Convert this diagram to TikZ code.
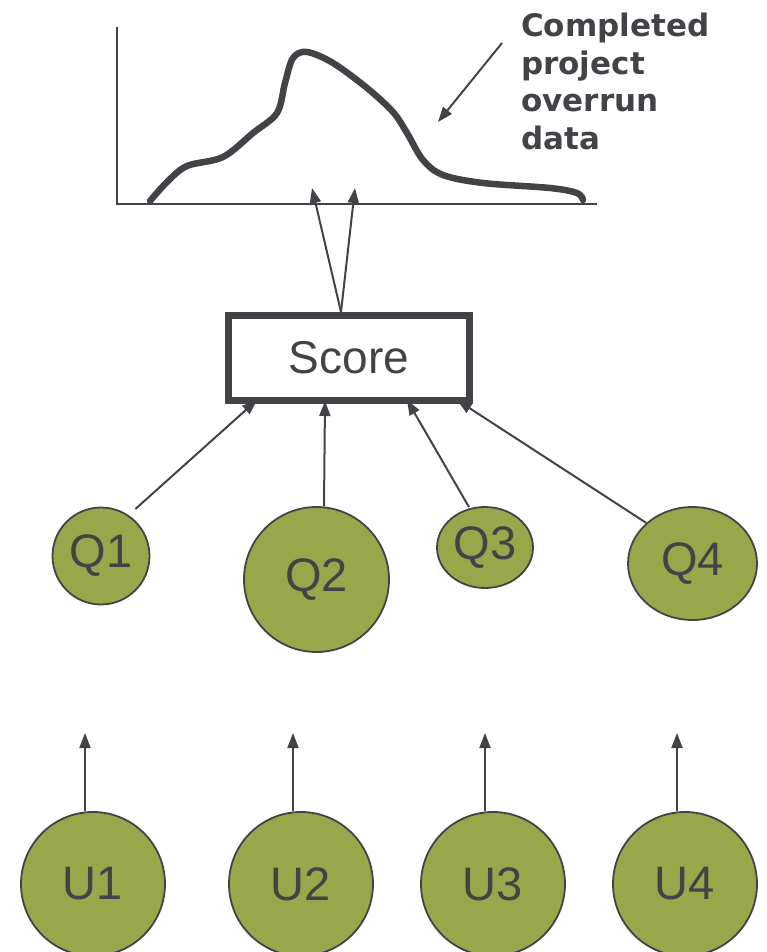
\documentclass[tikz,border=0pt]{standalone}
\usepackage{fontspec}
\setmainfont{Liberation Sans}
\newfontfamily\rotulo{DejaVu Sans}
\usetikzlibrary{arrows.meta,shapes.geometric}

\definecolor{oscuro}{RGB}{64,68,71}
\definecolor{oliva}{RGB}{152,167,74}

\tikzset{
    flecha/.style={-{Triangle[length=15pt,width=11pt]},line width=2pt,draw=oscuro},
    bola/.style={circle,draw=oscuro,line width=1.8pt,fill=oliva,inner sep=0pt,
        text=oscuro,font=\fontsize{47}{50}\selectfont},
    ovalo/.style={ellipse,draw=oscuro,line width=1.8pt,fill=oliva,inner sep=0pt,
        text=oscuro,font=\fontsize{47}{50}\selectfont},
    caja/.style={rectangle,draw=oscuro,line width=7pt,inner sep=0pt,
        minimum width=241pt,minimum height=85pt,text=oscuro,
        font=\fontsize{46}{50}\selectfont},
}

\begin{document}
\begin{tikzpicture}[x=1pt,y=-1pt]
    \useasboundingbox (0,0) rectangle (766,952);

    % ejes y curva
    \draw[oscuro,line width=2.5pt] (117,27) -- (117,204) -- (597,204);
    \draw[oscuro,line width=6.5pt,line cap=round] plot[smooth,tension=0.55] coordinates {
        (150,201) (167,182) (187,166) (223,157) (253,133) (277,113) (285,83)
        (293,58) (307,52) (333,63) (367,88) (393,112) (407,133) (423,160)
        (443,175) (483,183) (550,188) (577,193) (583,200)};

    \node[anchor=north west,align=left,inner sep=0pt,text=oscuro,
        font=\rotulo\fontsize{31}{37.5}\selectfont\bfseries] (datos) at (521,13)
        {Completed\\project\\overrun\\data};
    \coordinate (colaD) at (502,43);
    \coordinate (puntaD) at (438,122);
    \draw[flecha] (colaD) -- (puntaD);

    \node[caja] (score) at (349,358) {Score};
    \coordinate (ejeA) at (312,188);
    \coordinate (ejeB) at (355,188);
    \draw[flecha] ([xshift=-8pt]score.north) -- (ejeA);
    \draw[flecha] ([xshift=-8pt]score.north) -- (ejeB);

    \node[bola,minimum size=97pt] (Q1) at (101,556) {Q1};
    \node[bola,minimum size=145pt] (Q2) at (316.5,579.5) {Q2};
    \node[ovalo,minimum width=96pt,minimum height=81pt] (Q3) at (485,547.5) {Q3};
    \node[ovalo,minimum width=129pt,minimum height=113pt] (Q4) at (692.5,563.5) {Q4};

    \draw[flecha,shorten <=9pt] (Q1.56) -- ([xshift=-92pt,yshift=4pt]score.south);
    \draw[flecha] ([xshift=7.5pt]Q2.north) -- ([xshift=-24pt,yshift=3pt]score.south);
    \draw[flecha] ([xshift=-16pt,yshift=-1pt]Q3.north) -- ([xshift=58pt,yshift=4pt]score.south);
    \draw[flecha] (Q4.north west) -- ([xshift=108pt,yshift=4pt]score.south);

    \node[bola,minimum size=144pt] (U1) at (93,884) {U1};
    \node[bola,minimum size=144pt] (U2) at (301,884) {U2};
    \node[bola,minimum size=144pt] (U3) at (493,884) {U3};
    \node[bola,minimum size=144pt] (U4) at (685,884) {U4};

    \coordinate (u1) at (85,733);
    \coordinate (u2) at (293,733);
    \coordinate (u3) at (485,733);
    \coordinate (u4) at (677,733);
    \draw[flecha] ([xshift=-8pt]U1.north) -- (u1);
    \draw[flecha] ([xshift=-8pt]U2.north) -- (u2);
    \draw[flecha] ([xshift=-8pt]U3.north) -- (u3);
    \draw[flecha] ([xshift=-8pt]U4.north) -- (u4);
\end{tikzpicture}
\end{document}
